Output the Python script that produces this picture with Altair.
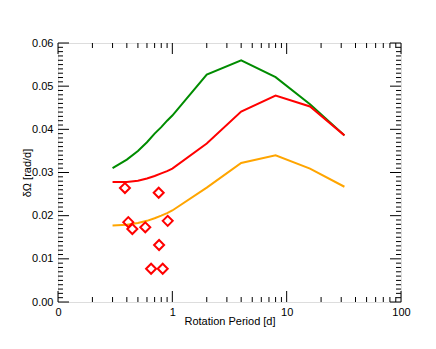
import altair as alt
import pandas as pd

# ---- data ----
periods = [0.3, 0.4, 0.5, 0.6, 0.7, 0.8, 0.9, 1.0, 2.0, 4.0, 8.0, 16.0, 32.0]
green_vals = [0.0310, 0.0330, 0.0350, 0.0370, 0.0390, 0.0405, 0.0420, 0.0432,
              0.0527, 0.0560, 0.0521, 0.0458, 0.0386]
red_vals = [0.0278, 0.0278, 0.0281, 0.0286, 0.0292, 0.0298, 0.0303, 0.0309,
            0.0367, 0.0441, 0.0478, 0.0453, 0.0386]
orange_vals = [0.0177, 0.0179, 0.0183, 0.0188, 0.0194, 0.0200, 0.0206, 0.0212,
               0.0265, 0.0322, 0.0340, 0.0309, 0.0267]

obs_period = [0.385, 0.760, 0.412, 0.447, 0.580, 0.911, 0.766, 0.652, 0.824]
obs_domega = [0.0264, 0.0253, 0.0185, 0.0169, 0.0173, 0.0188, 0.0132, 0.0077, 0.0077]

x_major = [0.1, 1, 10, 100]
x_minor = [m * d for d in [0.1, 1, 10] for m in range(2, 10)]
y_major = [0.00, 0.01, 0.02, 0.03, 0.04, 0.05, 0.06]
y_minor = [i / 1000 for i in range(61) if i % 10]

W, H = 343, 259
FONT = "Liberation Sans"

series = {"green": (green_vals, "#008c00"),
          "red": (red_vals, "#ff0000"),
          "orange": (orange_vals, "#ffa500")}

rows = []
for name, (vals, _) in series.items():
    for p, v in zip(periods, vals):
        rows.append({"P": p, "v": v, "s": name})
lines_df = pd.DataFrame(rows)
obs_df = pd.DataFrame({"P": obs_period, "v": obs_domega})

xs = alt.Scale(type="log", domain=[0.1, 100], nice=False)
ys = alt.Scale(domain=[0, 0.06], nice=False, zero=False)

x_axis = alt.Axis(values=x_major, labelExpr="datum.value < 0.5 ? '0' : format(datum.value, 'd')",
                  ticks=False, tickSize=0, domain=False, grid=False, labelPadding=4,
                  labelFlush=False, labelOverlap=False,
                  labelFont=FONT, labelFontSize=11, labelColor="black",
                  title="Rotation Period [d]", titleFont=FONT, titleFontSize=11,
                  titleFontWeight="normal", titleColor="black",
                  titleY=19, titleBaseline="middle")
y_axis = alt.Axis(values=y_major, format=".2f", ticks=False, tickSize=0, domain=False,
                  grid=False, labelPadding=5, labelFlush=False, labelOverlap=False,
                  labelFont=FONT, labelFontSize=11,
                  labelColor="black", title="δΩ [rad/d]", titleFont=FONT,
                  titleFontSize=11, titleFontWeight="normal", titleColor="black",
                  titleX=-31, titleY=H / 2, titleAngle=270, titleBaseline="middle",
                  titleAlign="center")

X = alt.X("P:Q", scale=xs, axis=x_axis)
Y = alt.Y("v:Q", scale=ys, axis=y_axis)

layers = []
for name, (vals, col) in series.items():
    ch = alt.Chart(lines_df).transform_filter(alt.datum.s == name).mark_line(
        strokeWidth=2, color=col, clip=True).encode(x=X, y=Y, order="P:Q")
    layers.append(ch)

pts = alt.Chart(obs_df).mark_point(shape="diamond", filled=False, color="#ff0000",
                                   strokeWidth=2, size=100, opacity=1).encode(x=X, y=Y)
layers.append(pts)

def xticks(vals, length):
    df = pd.DataFrame({"P": vals})
    base = alt.Chart(df).mark_rule(color="black", strokeWidth=1)
    bot = base.encode(x=X, y=alt.value(H), y2=alt.value(H - length))
    top = base.encode(x=X, y=alt.value(0), y2=alt.value(length))
    return [bot, top]

def yticks(vals, length):
    df = pd.DataFrame({"v": vals})
    base = alt.Chart(df).mark_rule(color="black", strokeWidth=1)
    lft = base.encode(y=Y, x=alt.value(0), x2=alt.value(length))
    rgt = base.encode(y=Y, x=alt.value(W), x2=alt.value(W - length))
    return [lft, rgt]

layers += xticks(x_major, 11) + xticks(x_minor, 5) + yticks(y_major, 11) + yticks(y_minor, 5)

chart = alt.layer(*layers).properties(
    width=W, height=H,
    autosize=alt.AutoSizeParams(type="none"),
    padding={"left": 50, "top": 35, "right": 20, "bottom": 35},
).configure_view(stroke="black", strokeWidth=1).configure(background="white")

chart.save("out.html", embed_options={"renderer": "svg", "actions": False})
